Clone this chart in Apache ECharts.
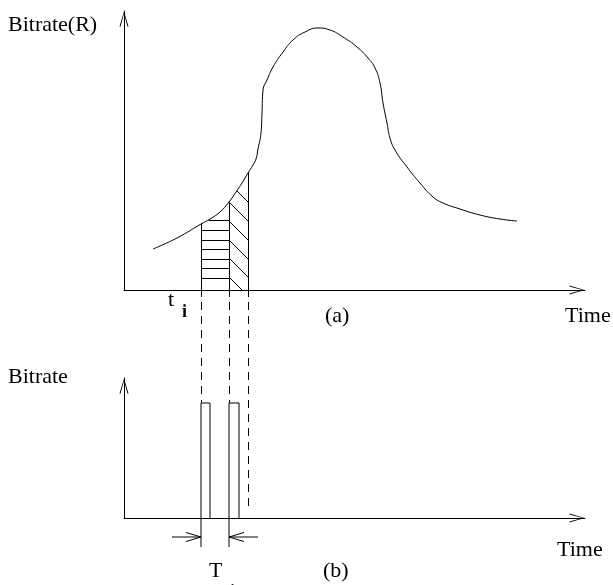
<!DOCTYPE html>
<html>
<head>
<meta charset="utf-8">
<title>Bitrate slices</title>
<script src="https://cdn.jsdelivr.net/npm/echarts@6/dist/echarts.min.js"></script>
<style>
  html, body { margin: 0; padding: 0; background: #fff; }
  #chart { width: 613px; height: 585px; }
</style>
</head>
<body>
<div id="chart"></div>
<script>
// (a) 码率曲线 R(t)
const curveTime = [29, 53, 77, 86, 96, 105, 112, 118, 124, 129, 132, 134, 137, 138, 139, 143, 149, 159, 169, 181,
  194, 206, 219, 233, 244, 251, 256, 259, 263, 266, 271, 283, 296, 309, 319, 336, 356, 376, 393];
const curveRate = [41, 52, 66, 71, 78, 88, 98, 107, 117, 125, 131, 141, 157, 177, 200, 210, 223, 238, 250, 258,
  262, 260, 253, 243, 232, 222, 207, 187, 167, 152, 140, 123, 107, 93, 87, 81, 75, 71, 69];
// 时间片边界：t_i, t_i + T_i, 下一片
const sliceEdges = [77, 105, 124];
// 横向阴影线高度
const hatchLevels = [12, 22, 31, 41, 50, 60, 70];
// 斜阴影线在第二条边界处的高度
const diagLevels = [107, 88, 69, 50, 32, 13];
// (b) 发送脉冲
const pulseStart = [77, 105];
const pulseEnd = [86, 115];
const pulseHeight = 115;
// T_i 标注箭头的起点
const arrowFrom = [48, 134];

const INK = '#000';
const FONT = '"Liberation Serif", "Times New Roman", serif';

// 曲线上的线性插值
const rateAt = (t) => {
  for (let i = 1; i < curveTime.length; i++) {
    if (t <= curveTime[i]) {
      const k = (t - curveTime[i - 1]) / (curveTime[i] - curveTime[i - 1]);
      return curveRate[i - 1] + k * (curveRate[i] - curveRate[i - 1]);
    }
  }
  return curveRate[curveRate.length - 1];
};

const [tA, tB, tC] = sliceEdges;

// 横线阴影，被曲线截断
const hatchH = hatchLevels.map(r => {
  let t0 = tA;
  while (t0 < tB && rateAt(t0) < r) t0 += 0.5;
  return {coords: [[t0, r], [tB, r]]};
});
// 斜线阴影，上端被曲线截断，下端到横轴
const hatchD = diagLevels.map(c => {
  let t0 = tB;
  while (t0 < tC && c - (t0 - tB) > rateAt(t0)) t0 += 0.5;
  const t1 = Math.min(tC, tB + c);
  return {coords: [[t0, c - (t0 - tB)], [t1, c - (t1 - tB)]]};
});
// 竖直边界线（穿过横轴一点）
const edgeLines = sliceEdges.map(t => ({coords: [[t, rateAt(t) + 1], [t, -7]]}));

// 下图：虚线投影、脉冲和箭头
const dropLines = sliceEdges.map((t, i) => ({coords: [[t, 216], [t, i < pulseStart.length ? pulseHeight : 6]]}));
const pulses = pulseStart.map((s, i) => ({coords: [[s, -29], [s, pulseHeight], [pulseEnd[i], pulseHeight], [pulseEnd[i], 0]]}));
const arrows = arrowFrom.map((f, i) => [f, -19, pulseStart[i], -19]);

// 空心箭头（尖端朝上）
const ARROW = 'path://M6 0 L12 20 L10.6 20 L6 3 L1.4 20 L0 20 Z';

const axisLine = {
  show: true,
  symbol: ['none', ARROW],
  symbolSize: [9, 16],
  symbolOffset: [0, -8],
  lineStyle: {color: INK, width: 1}
};
const bareAxis = (gridIndex, max) => ({
  type: 'value', gridIndex, min: 0, max,
  axisLine, axisTick: {show: false}, axisLabel: {show: false}, splitLine: {show: false}
});

const text = (str, x, y, size, weight) => ({
  type: 'text', x, y,
  style: {
    text: str, fill: INK,
    font: `${weight || 'normal'} ${size}px ${FONT}`,
    verticalAlign: 'middle'
  }
});

const chart = echarts.init(document.getElementById('chart'));
chart.setOption({
  animation: false,
  backgroundColor: '#fff',
  grid: [
    {left: 124, top: 11, width: 461, height: 279, outerBoundsMode: 'none'},
    {left: 124, top: 378, width: 461, height: 140, outerBoundsMode: 'none'}
  ],
  xAxis: [bareAxis(0, 461), bareAxis(1, 461)],
  yAxis: [bareAxis(0, 279), bareAxis(1, 140)],
  series: [
    {
      name: 'R(t)', type: 'line', xAxisIndex: 0, yAxisIndex: 0,
      data: curveTime.map((t, i) => [t, curveRate[i]]),
      smooth: 0.5, showSymbol: false, silent: true,
      lineStyle: {color: INK, width: 1}
    },
    {
      type: 'lines', coordinateSystem: 'cartesian2d', xAxisIndex: 0, yAxisIndex: 0,
      clip: false, silent: true,
      data: [...hatchH, ...hatchD, ...edgeLines],
      lineStyle: {color: INK, width: 1, opacity: 1}
    },
    {
      type: 'lines', coordinateSystem: 'cartesian2d', xAxisIndex: 1, yAxisIndex: 1,
      clip: false, silent: true,
      data: dropLines,
      lineStyle: {color: INK, width: 1, opacity: 1, type: [8, 6]}
    },
    {
      type: 'lines', coordinateSystem: 'cartesian2d', xAxisIndex: 1, yAxisIndex: 1,
      polyline: true, clip: false, silent: true,
      data: pulses,
      lineStyle: {color: INK, width: 1, opacity: 1}
    },
    {
      type: 'custom', coordinateSystem: 'cartesian2d', xAxisIndex: 1, yAxisIndex: 1,
      silent: true, clip: false,
      encode: {x: [0, 2], y: [1, 3]},
      data: arrows,
      renderItem: (params, api) => {
        const p0 = api.coord([api.value(0), api.value(1)]);
        const p1 = api.coord([api.value(2), api.value(3)]);
        const a = Math.atan2(p1[1] - p0[1], p1[0] - p0[0]);
        const L = 15, W = 4.5;
        const bx = p1[0] - L * Math.cos(a), by = p1[1] - L * Math.sin(a);
        const w1 = [bx + W * Math.sin(a), by - W * Math.cos(a)];
        const w2 = [bx - W * Math.sin(a), by + W * Math.cos(a)];
        const style = {stroke: INK, lineWidth: 1, fill: null};
        return {
          type: 'group',
          children: [
            {type: 'polyline', shape: {points: [p0, p1]}, style},
            {type: 'polyline', shape: {points: [w1, p1, w2]}, style}
          ]
        };
      }
    }
  ],
  graphic: [
    text('Bitrate(R)', 8, 25, 22),
    text('t', 168, 300, 22),
    text('i', 182, 312, 18, 'bold'),
    text('(a)', 325, 316, 22),
    text('Time', 565, 316, 22),
    text('Bitrate', 8, 377, 22),
    text('T', 209, 571, 22),
    text('i', 230, 592, 18, 'bold'),
    text('(b)', 323, 571, 22),
    text('Time', 557, 550, 22)
  ]
});
</script>
</body>
</html>
